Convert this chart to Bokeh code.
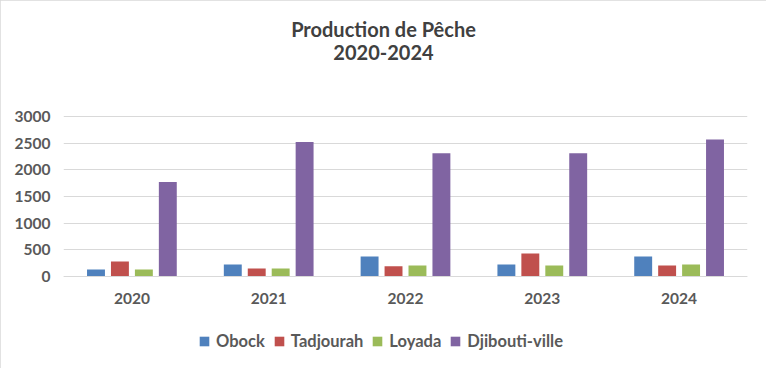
from bokeh.plotting import figure
from bokeh.models import ColumnDataSource, FactorRange, Range1d, Legend, LegendItem, Label
from bokeh.transform import dodge
from bokeh.embed import file_html
from bokeh.resources import INLINE

years = ["2020", "2021", "2022", "2023", "2024"]
obock = [130, 225, 375, 225, 375]
tadjourah = [280, 150, 190, 430, 205]
loyada = [130, 150, 205, 205, 225]
djibouti = [1770, 2520, 2310, 2310, 2570]
series_names = ["Obock", "Tadjourah", "Loyada", "Djibouti-ville"]
series_keys = ["obock", "tadjourah", "loyada", "djibouti"]
colors = ["#4F81BD", "#C0504D", "#9BBB59", "#8064A2"]
y_ticks = [0, 500, 1000, 1500, 2000, 2500, 3000]
title_lines = ["Production de Pêche", "2020-2024"]

source = ColumnDataSource(dict(years=years, obock=obock, tadjourah=tadjourah,
                               loyada=loyada, djibouti=djibouti))

FONT = "Lato"
TXT = "#595959"

# frame spans nearly the whole canvas; the value axis 0..3000 occupies its middle band
p = figure(width=766, height=368, x_range=FactorRange(factors=years, range_padding=0),
           y_range=Range1d(-1575, 5025), output_backend="svg", toolbar_location=None,
           title=None, min_border_left=63, min_border_right=19,
           min_border_top=8, min_border_bottom=8)
p.outline_line_color = None
p.background_fill_color = "white"
p.border_fill_color = "white"
p.styles = {"outline": "1px solid #d9d9d9", "outline-offset": "-1px"}

offsets = [-0.2625, -0.0875, 0.0875, 0.2625]
renderers = []
for key, off, col in zip(series_keys, offsets, colors):
    r = p.vbar(x=dodge("years", off, range=p.x_range), top=key, width=0.131,
               source=source, fill_color=col, line_color=None)
    renderers.append(r)

p.yaxis.ticker = y_ticks
p.yaxis.axis_line_color = None
p.yaxis.major_tick_line_color = None
p.yaxis.minor_tick_line_color = None
p.yaxis.major_label_text_font = FONT
p.yaxis.major_label_text_font_style = "bold"
p.yaxis.major_label_text_font_size = "15.5px"
p.yaxis.major_label_text_color = TXT
p.yaxis.major_label_standoff = 7

p.xaxis.fixed_location = 0
p.xaxis.axis_line_color = "#d9d9d9"
p.xaxis.major_tick_line_color = None
p.xaxis.minor_tick_line_color = None
p.xaxis.major_label_text_font = FONT
p.xaxis.major_label_text_font_style = "bold"
p.xaxis.major_label_text_font_size = "15.5px"
p.xaxis.major_label_text_color = TXT
p.xaxis.major_label_standoff = 10

p.xgrid.grid_line_color = None
p.ygrid.grid_line_color = "#d9d9d9"
p.ygrid.grid_line_width = 1

for txt, yy in zip(title_lines, [332, 308]):
    p.add_layout(Label(x=320, y=yy, x_units="screen", y_units="screen", text=txt,
                       text_font=FONT, text_font_style="bold", text_font_size="20px",
                       text_color="#404040", text_align="center", text_baseline="middle"))

legend = Legend(items=[LegendItem(label=n, renderers=[r]) for n, r in zip(series_names, renderers)],
                orientation="horizontal", location=(135, 9),
                label_text_font=FONT, label_text_font_style="bold",
                label_text_font_size="16.5px", label_text_color=TXT,
                glyph_width=12, glyph_height=12, label_standoff=6, spacing=8,
                padding=0, margin=0, border_line_color=None, background_fill_alpha=0)
p.add_layout(legend, "center")

open("out.html", "w").write(file_html(p, INLINE))
